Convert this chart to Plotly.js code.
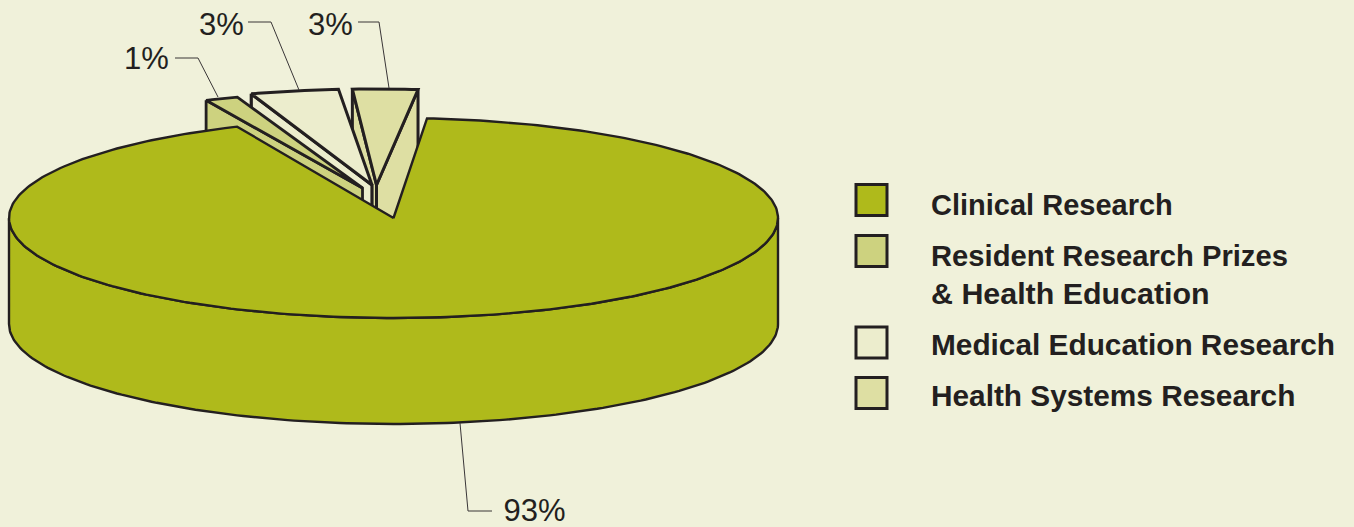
<!DOCTYPE html>
<html>
<head>
<meta charset="utf-8">
<script src="https://cdn.plot.ly/plotly-3.0.1.min.js"></script>
<style>html,body{margin:0;padding:0;background:#f0f1da;overflow:hidden}#c{width:1354px;height:527px}</style>
</head>
<body>
<div id="c"></div>
<script>
// Chart values
const categories = ['Clinical Research', 'Resident Research Prizes<br><span style="font-size:30.4px">& Health Education</span>', 'Medical Education Research', 'Health Systems Research'];
const percentLabels = ['93%', '1%', '3%', '3%'];
// Angles as drawn in the picture (degrees clockwise from the back of the pie)
const startDeg = [5, 336, 341.7, 356.4];
const sweepDeg = [331, 5, 13.3, 9.8];
const colors = ['#afba1b', '#cdd27f', '#ecedcd', '#dedfa3'];

// Style / layout
const INK = '#231f20', BG = '#f0f1da';
const W = 1354, H = 527;
const cx = 393.5, cy = 218, rx = 384.5, ry = 100, depth = 106;
const explodeX = [0, -31, -21.5, -17];
const explodeY = [0, -30, -33, -33];
const radiusY = [1, 0.96, 0.96, 0.96];
const legendX = 871.5, legendY = [200, 251, 342.5, 393], legendLabelY = [205, 275, 344, 395];
const legendFontSize = [29, 29.2, 29.8, 29.8];
const labelX = [534.5, 146.5, 221.5, 330.5], labelY = [513.5, 61.5, 27.5, 27.5];
const leaderX = [[460, 468, 492], [175, 198, 218], [248, 271, 299], [358, 379, 389]];
const leaderY = [[423, 511, 511], [58, 58, 97], [22, 22, 90], [22, 22, 88]];

const rad = d => d * Math.PI / 180;
function pt(i, deg, yShift) {
  return [cx + explodeX[i] + rx * Math.sin(rad(deg)),
          cy + explodeY[i] + ry * radiusY[i] * -Math.cos(rad(deg)) + (yShift || 0)];
}
function apex(i, yShift) { return [cx + explodeX[i], cy + explodeY[i] + (yShift || 0)]; }
function poly(points, fill, lw) {
  return {type: 'scatter', mode: 'lines', x: points.map(p => p[0]), y: points.map(p => p[1]),
    fill: 'toself', fillcolor: fill, line: {color: INK, width: lw}, hoverinfo: 'skip', showlegend: false};
}
function topFace(i, lw) {
  const pts = [apex(i)];
  const n = Math.max(4, Math.round(sweepDeg[i]));
  for (let k = 0; k <= n; k++) pts.push(pt(i, startDeg[i] + sweepDeg[i] * k / n));
  pts.push(apex(i));
  return poly(pts, colors[i], lw);
}
function radialWall(i, deg, lw) {
  return poly([pt(i, deg), apex(i), apex(i, depth), pt(i, deg, depth), pt(i, deg)], colors[i], lw);
}
function frontWall(i, lw) {
  const pts = [];
  for (let d = 90; d <= 270; d += 1) pts.push(pt(i, d));
  for (let d = 270; d >= 90; d -= 1) pts.push(pt(i, d, depth));
  pts.push(pts[0]);
  return poly(pts, colors[i], lw);
}

const traces = [];
traces.push(frontWall(0, 2.4));
// Exploded slices, back to front
traces.push(radialWall(3, startDeg[3], 3));
traces.push(radialWall(3, startDeg[3] + sweepDeg[3], 3));
traces.push(topFace(3, 3));
traces.push(radialWall(2, startDeg[2], 3.2));
traces.push(topFace(2, 3));
traces.push(radialWall(1, startDeg[1], 2.8));
traces.push(topFace(1, 2.8));
traces.push(topFace(0, 2.4));

// Leader lines
leaderX.forEach((xs, i) => traces.push({type: 'scatter', mode: 'lines', x: xs, y: leaderY[i],
  line: {color: '#3a3637', width: 1}, hoverinfo: 'skip', showlegend: false}));

// Legend swatches
traces.push({type: 'scatter', mode: 'markers', x: legendY.map(() => legendX), y: legendY,
  marker: {symbol: 'square', size: 31, color: colors, line: {color: INK, width: 3}},
  hoverinfo: 'skip', showlegend: false});

// Percent labels
traces.push({type: 'scatter', mode: 'text', x: labelX, y: labelY, text: percentLabels,
  textposition: 'middle center', cliponaxis: false, hoverinfo: 'skip', showlegend: false,
  textfont: {family: 'Liberation Sans, Arial, sans-serif', size: 31, color: INK}});

const annotations = [];
categories.forEach((t, i) => annotations.push({x: 929, y: legendLabelY[i], xref: 'x', yref: 'y', text: t,
  showarrow: false, xanchor: 'left', yanchor: 'middle', align: 'left',
  font: {family: 'Liberation Sans, Arial, sans-serif', size: legendFontSize[i], color: INK, weight: 'bold'}}));

const axis = {visible: false, showgrid: false, zeroline: false, fixedrange: true};
Plotly.newPlot('c', traces, {
  width: W, height: H, margin: {l: 0, r: 0, t: 0, b: 0},
  paper_bgcolor: BG, plot_bgcolor: BG, showlegend: false,
  xaxis: Object.assign({range: [0, W]}, axis),
  yaxis: Object.assign({range: [H, 0]}, axis),
  annotations: annotations
}, {displayModeBar: false, staticPlot: true});
</script>
</body>
</html>
